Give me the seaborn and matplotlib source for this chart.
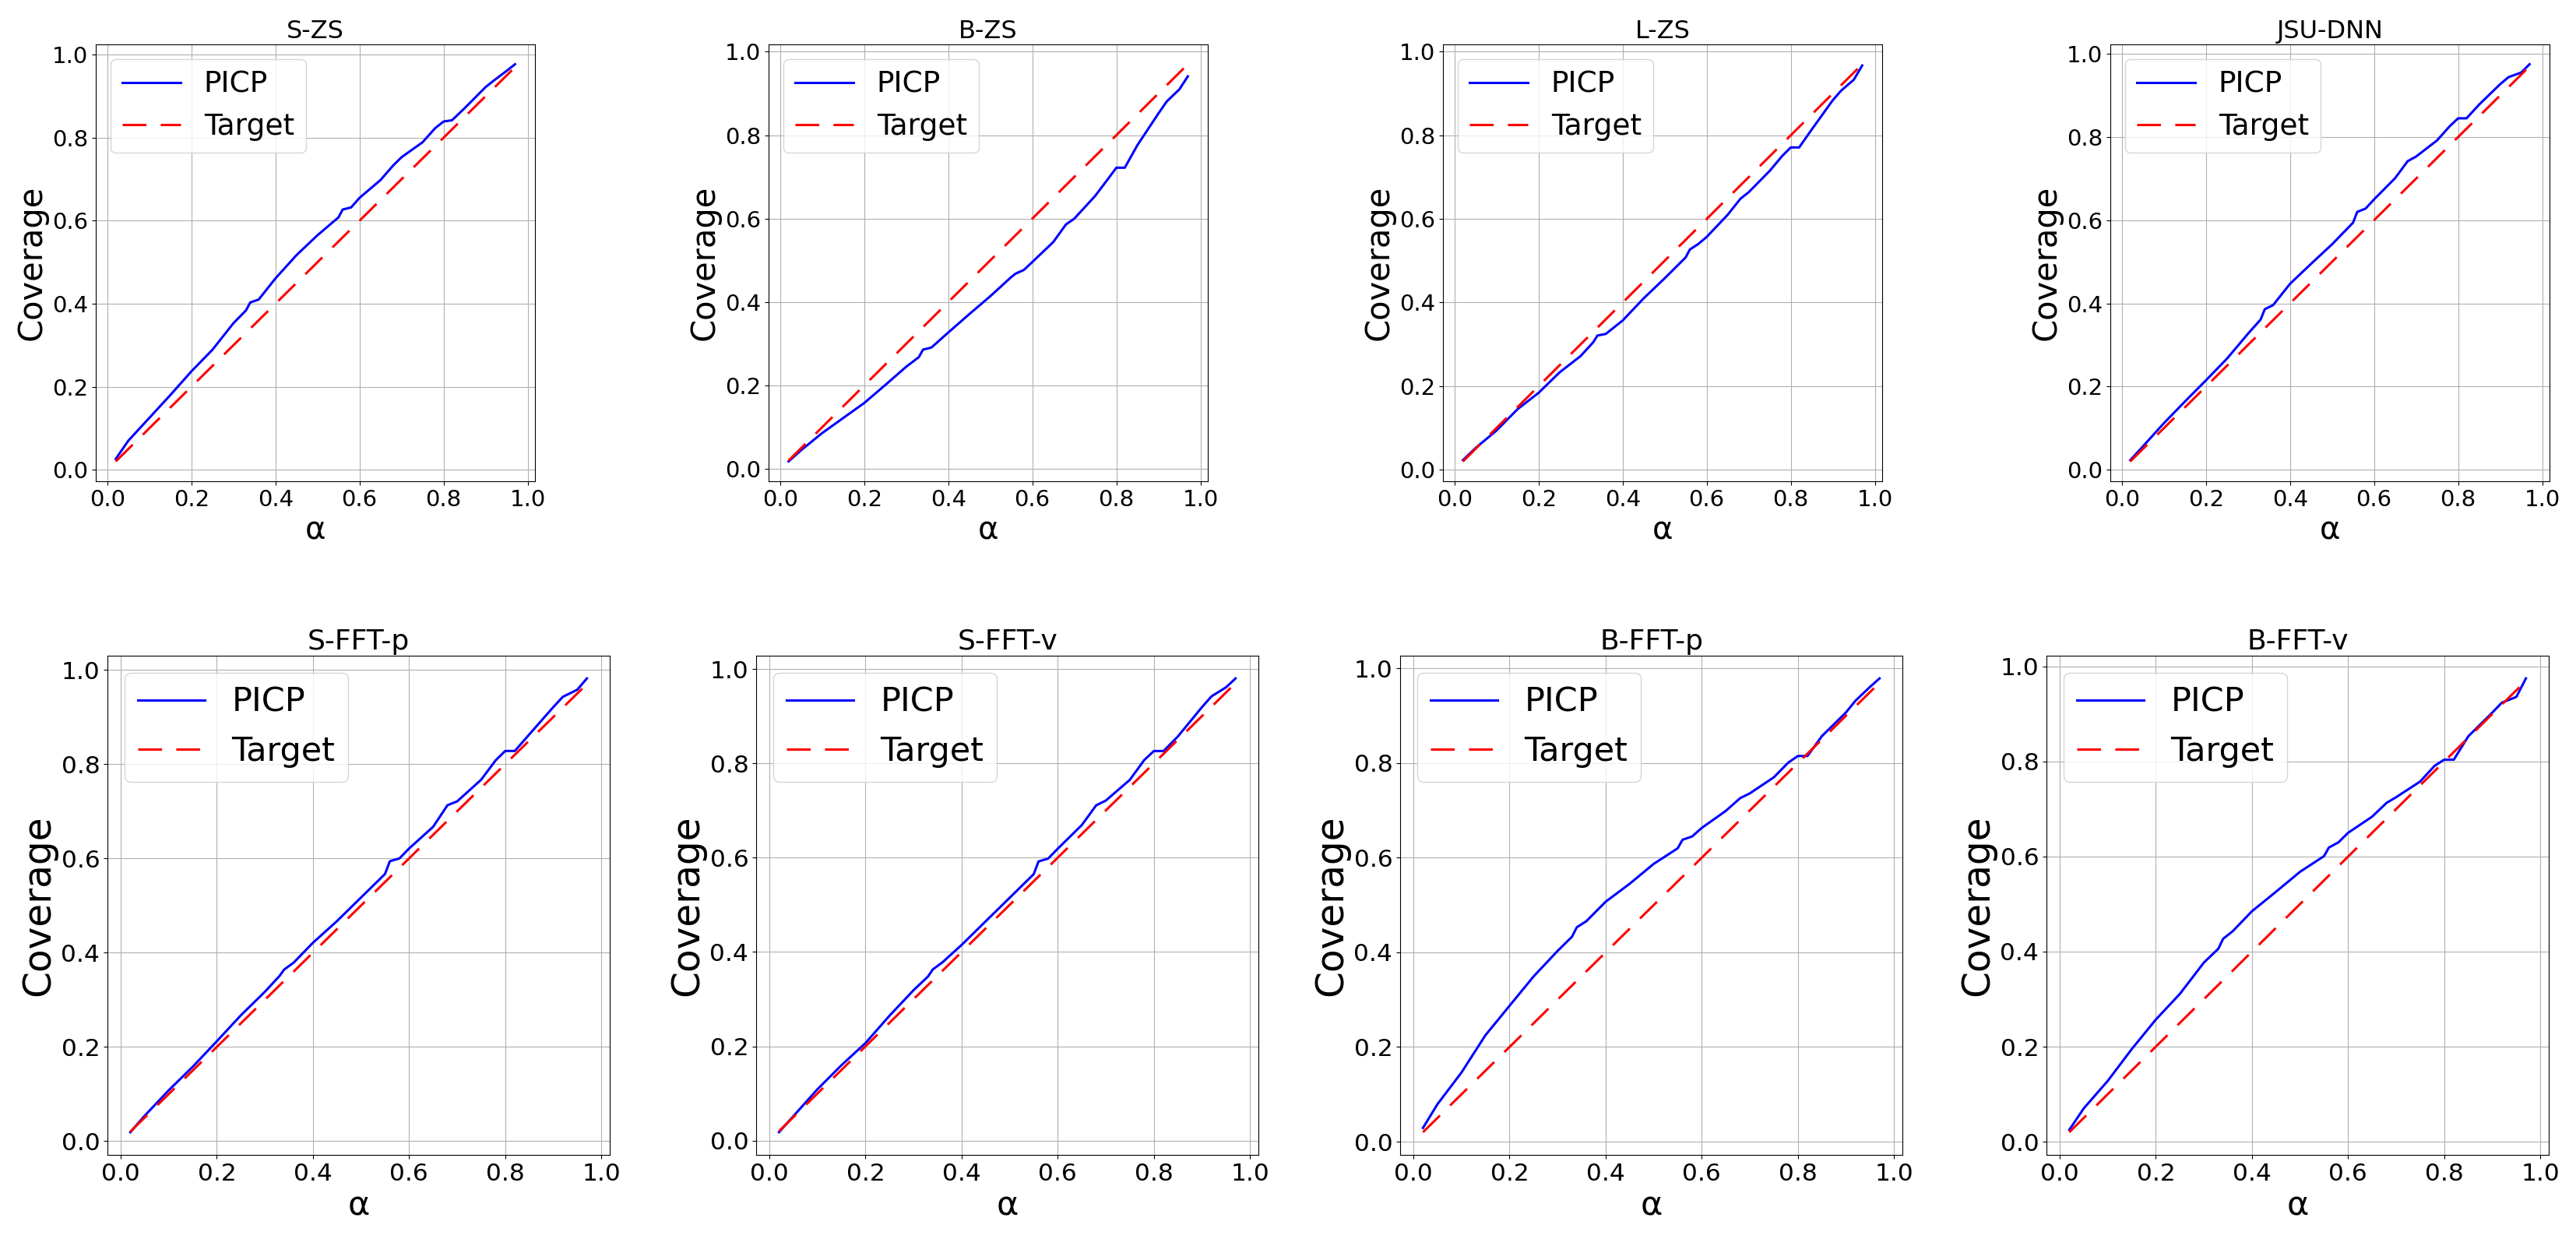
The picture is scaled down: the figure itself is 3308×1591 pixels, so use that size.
import numpy as np
import pandas as pd
import matplotlib
matplotlib.use("Agg")
import matplotlib.pyplot as plt
import seaborn as sns

alpha = [0.02, 0.05, 0.10, 0.15, 0.20, 0.25, 0.30, 0.33, 0.34, 0.36, 0.40, 0.45,
         0.50, 0.55, 0.56, 0.58, 0.60, 0.65, 0.68, 0.70, 0.75, 0.78, 0.80, 0.82,
         0.85, 0.90, 0.92, 0.95, 0.97]
target = list(alpha)

picp_s_zs = [0.026, 0.070, 0.125, 0.180, 0.237, 0.289, 0.353, 0.384, 0.403, 0.410,
             0.461, 0.517, 0.565, 0.608, 0.627, 0.632, 0.655, 0.698, 0.733, 0.753,
             0.789, 0.823, 0.839, 0.842, 0.871, 0.922, 0.938, 0.961, 0.977]
picp_b_zs = [0.018, 0.045, 0.086, 0.122, 0.158, 0.201, 0.245, 0.268, 0.286, 0.291,
             0.327, 0.371, 0.414, 0.460, 0.468, 0.477, 0.496, 0.544, 0.586, 0.600,
             0.655, 0.695, 0.722, 0.722, 0.776, 0.852, 0.881, 0.910, 0.941]
picp_l_zs = [0.023, 0.052, 0.094, 0.145, 0.184, 0.233, 0.272, 0.305, 0.321, 0.325,
             0.357, 0.410, 0.458, 0.508, 0.527, 0.540, 0.557, 0.610, 0.648, 0.664,
             0.715, 0.751, 0.771, 0.771, 0.814, 0.884, 0.907, 0.933, 0.967]
picp_jsu = [0.023, 0.056, 0.112, 0.164, 0.215, 0.267, 0.327, 0.361, 0.386, 0.396,
            0.447, 0.495, 0.542, 0.594, 0.620, 0.628, 0.650, 0.701, 0.742, 0.753,
            0.792, 0.826, 0.845, 0.845, 0.878, 0.927, 0.944, 0.955, 0.975]
picp_s_fft_p = [0.019, 0.054, 0.108, 0.158, 0.212, 0.267, 0.317, 0.350, 0.364, 0.379,
                0.421, 0.467, 0.517, 0.567, 0.594, 0.600, 0.621, 0.667, 0.713, 0.721,
                0.767, 0.808, 0.828, 0.828, 0.863, 0.921, 0.943, 0.958, 0.982]
picp_s_fft_v = [0.018, 0.052, 0.109, 0.160, 0.207, 0.265, 0.319, 0.348, 0.363, 0.378,
                0.415, 0.465, 0.515, 0.565, 0.592, 0.598, 0.619, 0.669, 0.711, 0.721,
                0.765, 0.807, 0.826, 0.826, 0.857, 0.919, 0.942, 0.961, 0.980]
picp_b_fft_p = [0.029, 0.079, 0.146, 0.225, 0.287, 0.349, 0.403, 0.433, 0.453, 0.466,
                0.507, 0.545, 0.587, 0.620, 0.638, 0.645, 0.663, 0.699, 0.726, 0.736,
                0.770, 0.801, 0.815, 0.815, 0.857, 0.907, 0.932, 0.961, 0.979]
picp_b_fft_v = [0.025, 0.070, 0.128, 0.195, 0.257, 0.311, 0.377, 0.406, 0.427, 0.443,
                0.485, 0.526, 0.568, 0.601, 0.619, 0.630, 0.650, 0.684, 0.713, 0.725,
                0.758, 0.791, 0.804, 0.804, 0.853, 0.903, 0.924, 0.936, 0.975]

titulos_topo = ["S-ZS", "B-ZS", "L-ZS", "JSU-DNN"]
titulos_base = ["S-FFT-p", "S-FFT-v", "B-FFT-p", "B-FFT-v"]
series_topo = [picp_s_zs, picp_b_zs, picp_l_zs, picp_jsu]
series_base = [picp_s_fft_p, picp_s_fft_v, picp_b_fft_p, picp_b_fft_v]

W, H = 3308, 1591
fig = plt.figure(figsize=(W / 100, H / 100), dpi=100)


def painel(rect_px, titulo, picp, fs):
    """Desenha um painel de cobertura (PICP vs alvo)"""
    x0, y0, x1, y1 = rect_px
    ax = fig.add_axes([x0 / W, 1 - y1 / H, (x1 - x0) / W, (y1 - y0) / H])
    dados = pd.DataFrame({"alpha": alpha, "picp": picp, "target": target})
    sns.lineplot(data=dados, x="alpha", y="picp", ax=ax, color="blue",
                 lw=2.2, label="PICP")
    sns.lineplot(data=dados, x="alpha", y="target", ax=ax, color="red",
                 lw=2.2, linestyle=(0, (10, 6)), label="Target")
    ax.set_xticks([0.0, 0.2, 0.4, 0.6, 0.8, 1.0])
    ax.set_yticks([0.0, 0.2, 0.4, 0.6, 0.8, 1.0])
    ax.tick_params(labelsize=fs["tick"])
    ax.set_title(titulo, fontsize=fs["title"])
    ax.set_xlabel("α", fontsize=fs["xlabel"])
    ax.set_ylabel("Coverage", fontsize=fs["ylabel"])
    ax.grid(True)
    ax.legend(loc="upper left", fontsize=fs["legend"])
    return ax


fs_topo = {"tick": 21, "title": 23, "xlabel": 29, "ylabel": 30, "legend": 27}
fs_base = {"tick": 22.5, "title": 26, "xlabel": 31, "ylabel": 35, "legend": 31}

lefts_topo = [123, 987, 1853, 2710]
lefts_base = [138, 971, 1798, 2628]

for esq, titulo, picp in zip(lefts_topo, titulos_topo, series_topo):
    painel((esq, 57, esq + 564, 618), titulo, picp, fs_topo)

for esq, titulo, picp in zip(lefts_base, titulos_base, series_base):
    painel((esq, 842, esq + 645, 1483), titulo, picp, fs_base)

fig.savefig("out.png", dpi=100, facecolor="white")
